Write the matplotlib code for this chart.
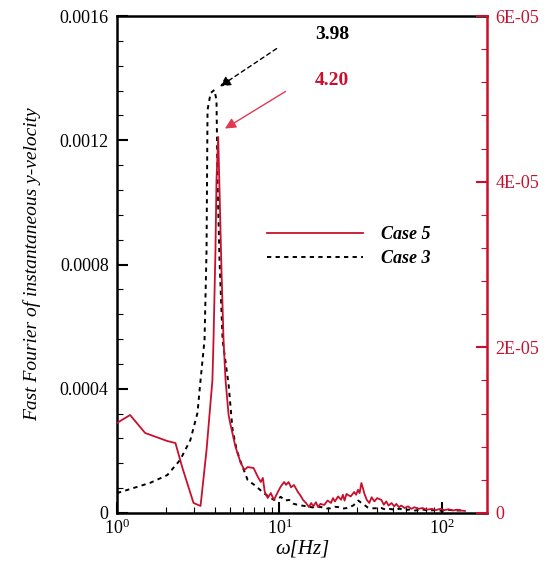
import matplotlib
matplotlib.use('Agg')
import matplotlib.pyplot as plt
from matplotlib.ticker import AutoMinorLocator, LogLocator, NullFormatter

plt.rcParams['font.family'] = ['Liberation Serif', 'DejaVu Serif']
plt.rcParams['mathtext.fontset'] = 'custom'
plt.rcParams['mathtext.rm'] = 'Liberation Serif'
plt.rcParams['mathtext.it'] = 'Liberation Serif:italic'

red = '#c8102e'

# Case 3 (left axis)
case3_freq = [1.0, 1.256, 1.6, 2.04, 2.45, 2.83, 3.13, 3.27, 3.46, 3.56, 3.61, 3.77, 3.98,
              4.10, 4.16, 4.28, 4.47, 4.87, 5.15, 5.46, 5.78, 6.38, 7.15, 8.01, 9.25,
              9.8, 10.2, 10.8, 11.5, 12.2, 13.0, 14.5, 16.0, 17.0, 18.1, 19.2, 20.5,
              22.0, 23.0, 24.5, 26.0, 28.5, 30.6, 32.5, 35.0, 38.0, 42.5, 45.0, 48.0,
              52.0, 55.0, 59.0, 63.0, 69.0, 75.0, 82.0, 90.0, 100.0, 110.0, 125.0, 139.0]
case3_amp = [6.4e-5, 8.0e-5, 9.7e-5, 1.22e-4, 1.71e-4, 2.35e-4, 3.22e-4, 4.28e-4, 5.57e-4,
             8.47e-4, 1.297e-3, 1.352e-3, 1.362e-3,
             1.329e-3, 1.072e-3, 8.14e-4, 5.57e-4, 4.12e-4, 2.67e-4, 2.03e-4, 1.64e-4,
             1.06e-4, 8.7e-5, 6.4e-5, 4.2e-5,
             4.6e-5, 5.2e-5, 4.0e-5, 4.2e-5, 3.0e-5, 2.6e-5, 2.2e-5, 1.8e-5, 2.1e-5,
             1.9e-5, 1.4e-5, 1.5e-5, 2.0e-5, 1.9e-5, 1.4e-5, 1.6e-5, 2.4e-5, 4.0e-5,
             3.0e-5, 1.8e-5, 1.5e-5, 1.6e-5, 1.1e-5, 1.3e-5, 1.0e-5, 1.4e-5, 0.9e-5,
             1.1e-5, 0.8e-5, 1.2e-5, 0.8e-5, 0.9e-5, 0.7e-5, 1.0e-5, 0.8e-5, 0.9e-5]

# Case 5 (right axis)
case5_freq = [1.0, 1.204, 1.49, 2.04, 2.29, 2.53, 2.96, 3.27, 3.56, 3.87, 3.93, 4.04, 4.10,
              4.20, 4.28, 4.40, 4.53, 4.66, 4.87, 5.01, 5.37, 5.78, 6.1, 6.38, 6.94, 7.37,
              7.69, 7.91, 8.13, 8.48, 8.86, 9.25, 9.79, 10.2, 10.7, 11.0, 11.4, 11.8,
              12.3, 13.0, 13.5, 14.0, 14.6, 15.2, 15.7, 16.2, 16.8, 17.3, 17.9, 18.9,
              19.8, 20.8, 21.4, 22.0, 23.0, 24.0, 24.6, 25.2, 25.9, 26.5, 27.5, 28.9,
              29.7, 30.5, 31.2, 32.0, 32.7, 33.3, 34.5, 35.8, 37.0, 38.5, 40.0, 42.5,
              44.0, 45.5, 47.0, 49.1, 51.0, 52.5, 54.5, 56.4, 59.0, 62.0, 65.0, 68.0,
              72.0, 76.0, 81.0, 86.9, 92.0, 98.0, 104.0, 110.0, 117.0, 124.0, 131.0, 139.0]
case5_amp = [1.087e-5, 1.183e-5, 9.66e-6, 8.69e-6, 8.45e-6, 5.43e-6, 1.21e-6, 0.85e-6,
             7.6e-6, 1.606e-5, 2.09e-5, 3.17e-5, 4.02e-5,
             4.54e-5, 3.9e-5, 2.93e-5, 2.09e-5, 1.606e-5, 1.18e-5, 1.06e-5, 7.97e-6,
             6.04e-6, 5.2e-6, 5.55e-6, 5.43e-6, 4.35e-6,
             3.74e-6, 4.23e-6, 2.54e-6, 1.81e-6, 2.41e-6, 1.57e-6, 2.54e-6, 3.2e-6,
             3.74e-6, 3.4e-6, 3.74e-6, 3.1e-6, 3.38e-6, 2.54e-6, 2.1e-6, 1.57e-6,
             1.2e-6, 0.72e-6, 1.2e-6, 0.8e-6, 1.3e-6, 0.72e-6, 1.1e-6, 0.97e-6,
             1.5e-6, 1.21e-6, 1.8e-6, 1.4e-6, 2.0e-6, 1.6e-6, 2.2e-6, 1.5e-6, 2.3e-6,
             2.17e-6, 2.0e-6, 2.54e-6, 2.2e-6, 2.8e-6, 2.4e-6, 3.62e-6, 3.0e-6,
             2.41e-6, 1.6e-6, 1.21e-6, 1.9e-6, 1.4e-6, 1.8e-6, 1.57e-6, 1.0e-6,
             1.4e-6, 0.9e-6, 1.2e-6, 0.8e-6, 1.1e-6, 0.7e-6, 0.9e-6, 0.6e-6, 0.8e-6,
             0.5e-6, 0.7e-6, 0.5e-6, 0.6e-6, 0.4e-6, 0.5e-6, 0.35e-6, 0.5e-6, 0.35e-6,
             0.45e-6, 0.3e-6, 0.4e-6, 0.3e-6, 0.25e-6]

left_ticks = [0, 0.0004, 0.0008, 0.0012, 0.0016]
left_labels = ['0', '0.0004', '0.0008', '0.0012', '0.0016']
right_ticks = [0, 2e-5, 4e-5, 6e-5]
right_labels = ['0', '2E-05', '4E-05', '6E-05']

fig = plt.figure(figsize=(5.47, 5.62), dpi=100)
ax = fig.add_axes([0.2139, 0.0872, 0.6764, 0.8843])
ax2 = ax.twinx()

l3, = ax.plot(case3_freq, case3_amp, color='black', lw=1.4, linestyle=(0, (2.2, 2.2)),
              label='Case 3')
l5, = ax2.plot(case5_freq, case5_amp, color=red, lw=1.3, label='Case 5')

ax.set_xscale('log')
ax.set_xlim(1, 190)
ax.set_ylim(0, 0.0016)
ax2.set_ylim(0, 6e-5)

ax.set_yticks(left_ticks)
ax.set_yticklabels(left_labels)
ax2.set_yticks(right_ticks)
ax2.set_yticklabels(right_labels)
ax.yaxis.set_minor_locator(AutoMinorLocator(5))
ax2.yaxis.set_minor_locator(AutoMinorLocator(5))
ax.xaxis.set_minor_locator(LogLocator(base=10, subs=range(2, 10)))
ax.xaxis.set_minor_formatter(NullFormatter())

ax.tick_params(which='major', direction='in', length=8, width=1.5, labelsize=13, pad=6)
ax.tick_params(axis='x', which='major', pad=4)
ax.tick_params(which='minor', direction='in', length=4, width=0.8)
ax2.tick_params(which='major', direction='in', length=8, width=1.5, labelsize=13,
                colors=red, pad=6)
ax2.tick_params(which='minor', direction='in', length=4, width=0.8, colors=red)

for s in ['left', 'bottom', 'top']:
    ax.spines[s].set_linewidth(1.8)
    ax2.spines[s].set_visible(False)
ax.spines['right'].set_visible(False)
ax2.spines['right'].set_color(red)
ax2.spines['right'].set_linewidth(1.8)

ax.set_ylabel('Fast Fourier of instantaneous y-velocity', fontsize=14, style='italic',
              labelpad=13)
ax.set_xlabel(r'ω[Hz]', fontsize=15, style='italic', labelpad=1)

ax.annotate('', xy=(4.16, 0.001368), xytext=(9.93, 0.0015),
            arrowprops=dict(arrowstyle='-|>', color='black', lw=1.0, linestyle=(0, (3, 2.5)),
                            mutation_scale=16))
ax.annotate('', xy=(4.47, 0.001233), xytext=(11.3, 0.001362),
            arrowprops=dict(arrowstyle='-|>', color='#e03a55', lw=1.0, mutation_scale=16))
ax.text(21.1, 0.001539, '3.98', fontsize=14, fontweight='bold', ha='center', va='center')
ax.text(21.1, 0.001394, '4.20', fontsize=14, fontweight='bold', color=red,
        ha='center', va='center')

ax2.legend(handles=[l5, l3], loc='center left', bbox_to_anchor=(0.405, 0.536),
           frameon=False, borderpad=0, borderaxespad=0, handlelength=5.3,
           handletextpad=1.0, labelspacing=0.4,
           prop={'style': 'italic', 'weight': 'bold', 'size': 13})

fig.savefig('out.png', dpi=100)
